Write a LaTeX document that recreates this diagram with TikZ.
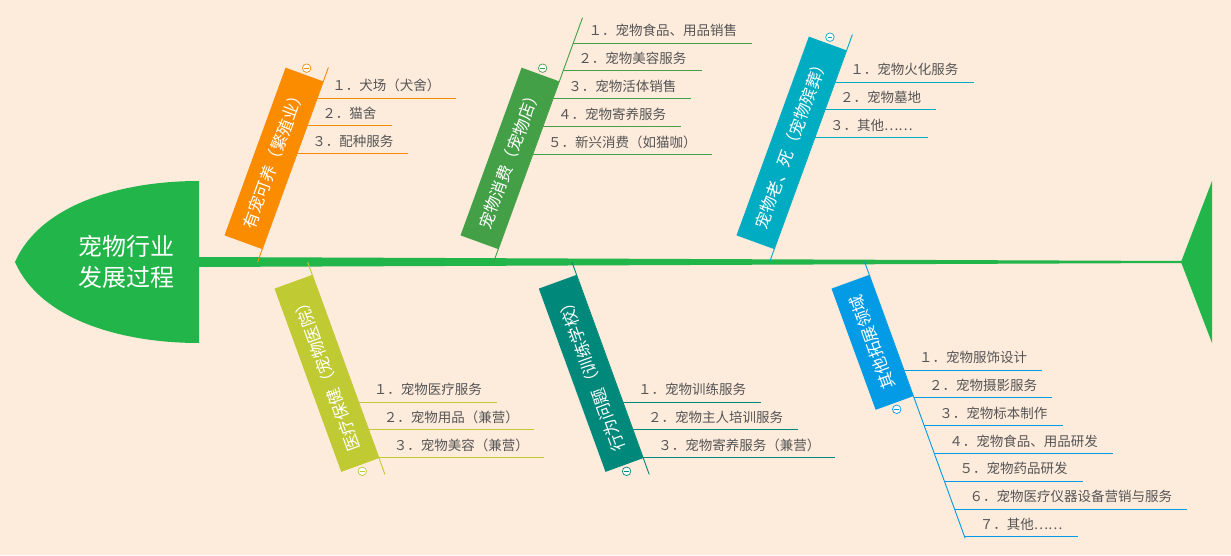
\documentclass[tikz,border=0pt]{standalone}
\usepackage{fontspec}
\setmainfont{Noto Sans CJK SC}
\usetikzlibrary{calc,positioning}
\definecolor{fishBg}{RGB}{253,235,220}
\definecolor{fishGreen}{RGB}{34,181,74}
\definecolor{brOrange}{RGB}{251,140,0}
\definecolor{brGreen}{RGB}{67,160,71}
\definecolor{brCyan}{RGB}{0,172,193}
\definecolor{brLime}{RGB}{192,202,51}
\definecolor{brTeal}{RGB}{0,137,123}
\definecolor{brBlue}{RGB}{3,155,229}
\definecolor{itemGray}{RGB}{85,85,85}

\tikzset{
  catbox/.style={fill=#1, text=white, minimum height=40pt, inner xsep=15pt,
    inner ysep=0pt, font=\fontsize{16.5}{18}\selectfont},
  itembox/.style={anchor=south west, inner xsep=15pt, inner ysep=4pt,
    text height=10pt, text depth=3pt, text=itemGray, font=\fontsize{13.5}{15}\selectfont},
  minusdot/.style={circle, draw=#1, fill=white, line width=0.7pt, minimum size=8.5pt,
    inner sep=0pt, path picture={\draw[#1, line width=0.6pt]
      ([xshift=2pt]path picture bounding box.west) -- ([xshift=-2pt]path picture bounding box.east);}},
  bone/.style={draw=#1, line width=0.9pt},
}

\begin{document}
\begin{tikzpicture}[x=1pt,y=1pt]
    \useasboundingbox (0,0) rectangle (1231,555);
    \fill[fishBg] (0,0) rectangle (1231,555);

    % head and tail
    \fill[fishGreen] (199,374) .. controls (120,374) and (40,350) .. (15,293)
        .. controls (40,236) and (120,212) .. (199,212) -- cycle;
    \node[text=white, align=center, font=\fontsize{24}{31}\selectfont] (head) at (126,293)
        {宠物行业\\发展过程};
    \fill[fishGreen] (1181,293) -- (1212,374) -- (1212,212) -- cycle;

    % spine
    \fill[fishGreen] (199,298) -- (1182,294) -- (1182,292) -- (199,288) -- cycle;

    % branch 1
    \coordinate (b1) at (257.6,293);
    \coordinate (e1) at ($(b1)+(70:207)$);
    \draw[bone=brOrange] (b1) -- (e1);
    \node[catbox=brOrange, rotate=70, anchor=south west] (k1) at ($(b1)!13.5pt!(e1)$) {有宠可养（繁殖业）};
    \node[minusdot=brOrange] (c1) at ($(k1.east)!-6.5pt!(k1.west)$) {};
    \foreach \t [count=\i] in {１．犬场（犬舍）, ２．猫舍, ３．配种服务} {
        \pgfmathsetmacro{\d}{(164-(\i-1)*27.8)/sin(70)}
        \node[itembox] (i1\i) at ($(b1)!\d pt!(e1)$) {\t};
        \draw[bone=brOrange] (i1\i.south west) -- (i1\i.south east);
    }

    % branch 2
    \coordinate (b2) at (493.6,293);
    \coordinate (e2) at ($(b2)+(70:260)$);
    \draw[bone=brGreen] (b2) -- (e2);
    \node[catbox=brGreen, rotate=70, anchor=south west] (k2) at ($(b2)!13.5pt!(e2)$) {宠物消费（宠物店）};
    \node[minusdot=brGreen] (c2) at ($(k2.east)!-6.5pt!(k2.west)$) {};
    \foreach \t [count=\i] in {１．宠物食品、用品销售, ２．宠物美容服务, ３．宠物活体销售,
        ４．宠物寄养服务, ５．新兴消费（如猫咖）} {
        \pgfmathsetmacro{\d}{(219-(\i-1)*27.8)/sin(70)}
        \node[itembox] (i2\i) at ($(b2)!\d pt!(e2)$) {\t};
        \draw[bone=brGreen] (i2\i.south west) -- (i2\i.south east);
    }

    % branch 3
    \coordinate (b3) at (769.6,293);
    \coordinate (e3) at ($(b3)+(70:242)$);
    \draw[bone=brCyan] (b3) -- (e3);
    \node[catbox=brCyan, rotate=70, anchor=south west] (k3) at ($(b3)!13.5pt!(e3)$) {宠物老、死（宠物殡葬）};
    \node[minusdot=brCyan] (c3) at ($(k3.east)!-6.5pt!(k3.west)$) {};
    \foreach \t [count=\i] in {１．宠物火化服务, ２．宠物墓地, ３．其他……} {
        \pgfmathsetmacro{\d}{(180-(\i-1)*27.8)/sin(70)}
        \node[itembox] (i3\i) at ($(b3)!\d pt!(e3)$) {\t};
        \draw[bone=brCyan] (i3\i.south west) -- (i3\i.south east);
    }

    % branch 4
    \coordinate (b4) at (307.6,293);
    \coordinate (e4) at ($(b4)+(-70:226)$);
    \draw[bone=brLime] (b4) -- (e4);
    \node[catbox=brLime, rotate=110, anchor=south east] (k4) at ($(b4)!13.5pt!(e4)$) {医疗保健（宠物医院）};
    \node[minusdot=brLime] (c4) at ($(k4.west)!-6.5pt!(k4.east)$) {};
    \foreach \t [count=\i] in {１．宠物医疗服务, ２．宠物用品（兼营）, ３．宠物美容（兼营）} {
        \pgfmathsetmacro{\d}{(140+(\i-1)*27.8)/sin(70)}
        \node[itembox] (i4\i) at ($(b4)!\d pt!(e4)$) {\t};
        \draw[bone=brLime] (i4\i.south west) -- (i4\i.south east);
    }

    % branch 5
    \coordinate (b5) at (571.9,293);
    \coordinate (e5) at ($(b5)+(-70:226)$);
    \draw[bone=brTeal] (b5) -- (e5);
    \node[catbox=brTeal, rotate=110, anchor=south east] (k5) at ($(b5)!13.5pt!(e5)$) {行为问题（训练学校）};
    \node[minusdot=brTeal] (c5) at ($(k5.west)!-6.5pt!(k5.east)$) {};
    \foreach \t [count=\i] in {１．宠物训练服务, ２．宠物主人培训服务, ３．宠物寄养服务（兼营）} {
        \pgfmathsetmacro{\d}{(140+(\i-1)*27.8)/sin(70)}
        \node[itembox] (i5\i) at ($(b5)!\d pt!(e5)$) {\t};
        \draw[bone=brTeal] (i5\i.south west) -- (i5\i.south east);
    }

    % branch 6
    \coordinate (b6) at (864.6,293);
    \coordinate (e6) at ($(b6)+(-70:294)$);
    \draw[bone=brBlue] (b6) -- (e6);
    \node[catbox=brBlue, rotate=110, anchor=south east] (k6) at ($(b6)!13.5pt!(e6)$) {其他拓展领域};
    \node[minusdot=brBlue] (c6) at ($(k6.west)!-6.5pt!(k6.east)$) {};
    \foreach \t [count=\i] in {１．宠物服饰设计, ２．宠物摄影服务, ３．宠物标本制作, ４．宠物食品、用品研发,
        ５．宠物药品研发, ６．宠物医疗仪器设备营销与服务, ７．其他……} {
        \pgfmathsetmacro{\d}{(108+(\i-1)*27.8)/sin(70)}
        \node[itembox] (i6\i) at ($(b6)!\d pt!(e6)$) {\t};
        \draw[bone=brBlue] (i6\i.south west) -- (i6\i.south east);
    }
\end{tikzpicture}
\end{document}
